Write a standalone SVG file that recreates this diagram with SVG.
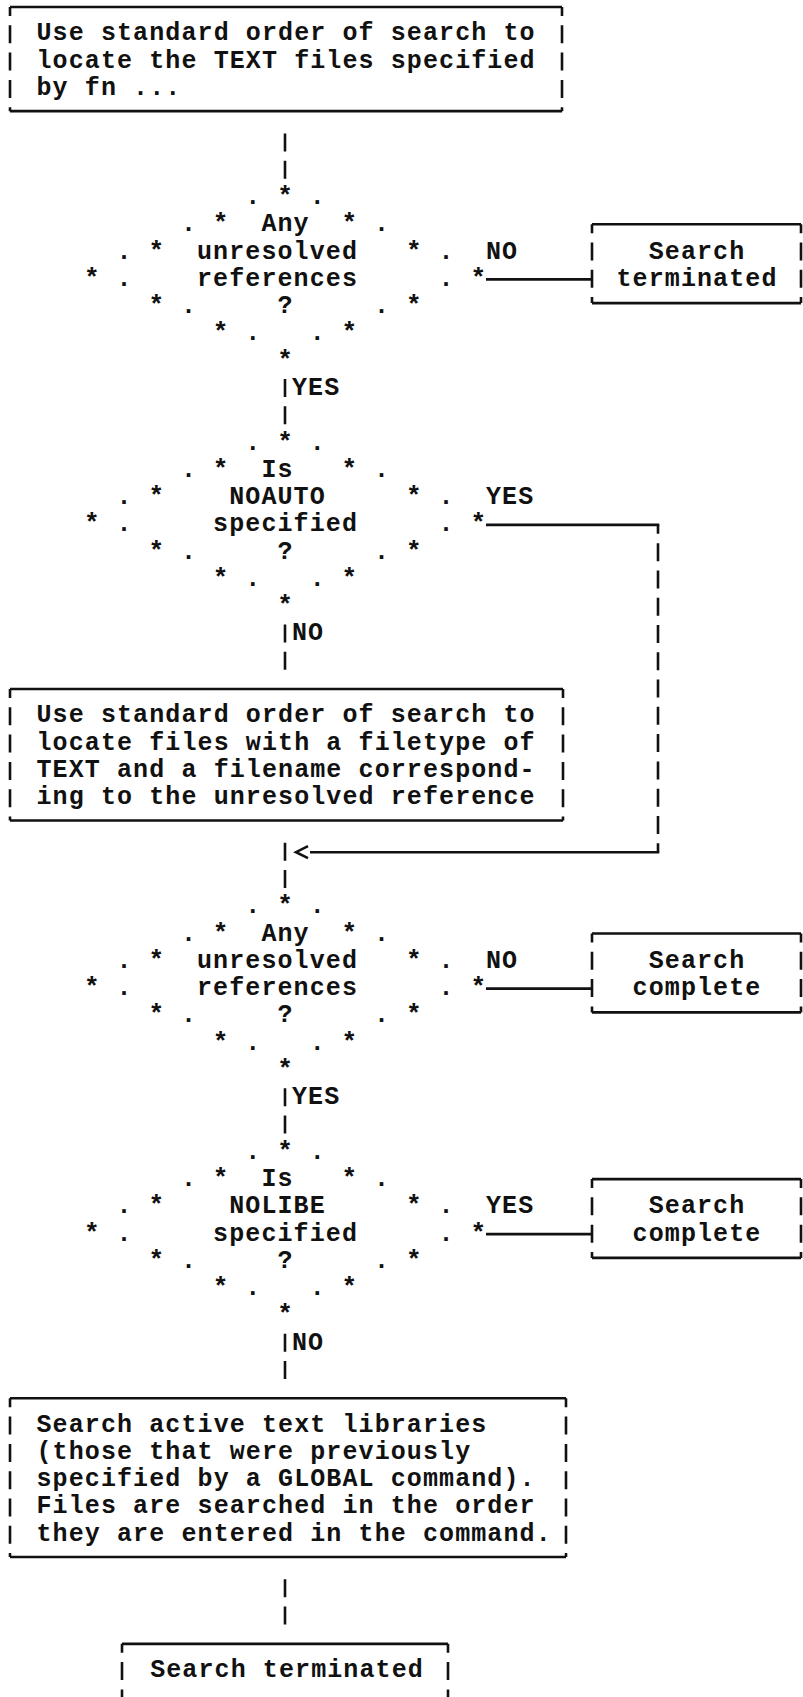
<svg xmlns="http://www.w3.org/2000/svg" width="803" height="1697" viewBox="0 0 803 1697">
<style>
.t{font-family:"Liberation Mono","DejaVu Sans Mono",monospace;font-size:25px;font-weight:bold;letter-spacing:1.1px;fill:#111}
.c{text-anchor:middle}
.g{font-family:"Liberation Mono","DejaVu Sans Mono",monospace;font-size:25px;font-weight:bold;fill:#111;text-anchor:middle}
.s{font-family:"Liberation Mono","DejaVu Sans Mono",monospace;font-size:26px;font-weight:bold;fill:#111;text-anchor:middle}
.ln{stroke:#111;stroke-width:2.6;fill:none}
.side{stroke:#111;stroke-width:2.6;fill:none;stroke-dasharray:18 9.28;stroke-dashoffset:9}
.bar{stroke:#111;stroke-width:2.6;fill:none;stroke-dasharray:18 9.28}
</style>
<rect width="803" height="1697" fill="#fff"/>

<g id="box1">
<path class="ln" d="M10,7.04 H562 M10,111.16 H562"/>
<path class="side" d="M10,7.04 V111.16 M562,7.04 V111.16"/>
<text class="t" x="36.5" y="40.3">Use standard order of search to</text>
<text class="t" x="36.5" y="67.6">locate the TEXT files specified</text>
<text class="t" x="36.5" y="94.9">by fn ...</text>
</g>

<g id="decision1" transform="translate(0,196)">
<text class="g" x="252.8" y="8">.</text><text class="g" x="317.2" y="8">.</text>
<text class="g" x="188.4" y="35.28">.</text><text class="g" x="381.6" y="35.28">.</text>
<text class="g" x="124" y="62.56">.</text><text class="g" x="446" y="62.56">.</text>
<text class="g" x="124" y="89.84">.</text><text class="g" x="446" y="89.84">.</text>
<text class="g" x="188.4" y="117.12">.</text><text class="g" x="381.6" y="117.12">.</text>
<text class="g" x="252.8" y="144.4">.</text><text class="g" x="317.2" y="144.4">.</text>
<text class="s" x="285" y="8">*</text>
<text class="s" x="220.6" y="35.28">*</text><text class="s" x="349.4" y="35.28">*</text>
<text class="s" x="156.2" y="62.56">*</text><text class="s" x="413.8" y="62.56">*</text>
<text class="s" x="91.8" y="89.84">*</text><text class="s" x="478.2" y="89.84">*</text>
<text class="s" x="156.2" y="117.12">*</text><text class="s" x="413.8" y="117.12">*</text>
<text class="s" x="220.6" y="144.4">*</text><text class="s" x="349.4" y="144.4">*</text>
<text class="s" x="285" y="171.68">*</text>
<text class="t" x="261.4" y="35.28">Any</text>
<text class="t" x="197" y="62.56">unresolved</text>
<text class="t" x="197" y="89.84">references</text>
<text class="g" x="285" y="117.12">?</text>
</g>

<g id="end1">
<path class="ln" d="M592,224.28 H801 M592,303.12 H801"/>
<path class="side" d="M592,224.28 V303.12 M801,224.28 V303.12"/>
<text class="t c" x="697" y="258.56">Search</text>
<text class="t c" x="697" y="285.84">terminated</text>
</g>

<g id="decision2" transform="translate(0,441.52)">
<text class="g" x="252.8" y="8">.</text><text class="g" x="317.2" y="8">.</text>
<text class="g" x="188.4" y="35.28">.</text><text class="g" x="381.6" y="35.28">.</text>
<text class="g" x="124" y="62.56">.</text><text class="g" x="446" y="62.56">.</text>
<text class="g" x="124" y="89.84">.</text><text class="g" x="446" y="89.84">.</text>
<text class="g" x="188.4" y="117.12">.</text><text class="g" x="381.6" y="117.12">.</text>
<text class="g" x="252.8" y="144.4">.</text><text class="g" x="317.2" y="144.4">.</text>
<text class="s" x="285" y="8">*</text>
<text class="s" x="220.6" y="35.28">*</text><text class="s" x="349.4" y="35.28">*</text>
<text class="s" x="156.2" y="62.56">*</text><text class="s" x="413.8" y="62.56">*</text>
<text class="s" x="91.8" y="89.84">*</text><text class="s" x="478.2" y="89.84">*</text>
<text class="s" x="156.2" y="117.12">*</text><text class="s" x="413.8" y="117.12">*</text>
<text class="s" x="220.6" y="144.4">*</text><text class="s" x="349.4" y="144.4">*</text>
<text class="s" x="285" y="171.68">*</text>
<text class="t" x="261.4" y="35.28">Is</text>
<text class="t" x="229.2" y="62.56">NOAUTO</text>
<text class="t" x="213.1" y="89.84">specified</text>
<text class="g" x="285" y="117.12">?</text>
</g>

<g id="box2">
<path class="ln" d="M10,689.04 H563 M10,820.44 H563"/>
<path class="side" d="M10,689.04 V820.44 M563,689.04 V820.44"/>
<text class="t" x="36.5" y="722.3">Use standard order of search to</text>
<text class="t" x="36.5" y="749.6">locate files with a filetype of</text>
<text class="t" x="36.5" y="776.9">TEXT and a filename correspond-</text>
<text class="t" x="36.5" y="804.2">ing to the unresolved reference</text>
</g>

<g id="decision3" transform="translate(0,905.28)">
<text class="g" x="252.8" y="8">.</text><text class="g" x="317.2" y="8">.</text>
<text class="g" x="188.4" y="35.28">.</text><text class="g" x="381.6" y="35.28">.</text>
<text class="g" x="124" y="62.56">.</text><text class="g" x="446" y="62.56">.</text>
<text class="g" x="124" y="89.84">.</text><text class="g" x="446" y="89.84">.</text>
<text class="g" x="188.4" y="117.12">.</text><text class="g" x="381.6" y="117.12">.</text>
<text class="g" x="252.8" y="144.4">.</text><text class="g" x="317.2" y="144.4">.</text>
<text class="s" x="285" y="8">*</text>
<text class="s" x="220.6" y="35.28">*</text><text class="s" x="349.4" y="35.28">*</text>
<text class="s" x="156.2" y="62.56">*</text><text class="s" x="413.8" y="62.56">*</text>
<text class="s" x="91.8" y="89.84">*</text><text class="s" x="478.2" y="89.84">*</text>
<text class="s" x="156.2" y="117.12">*</text><text class="s" x="413.8" y="117.12">*</text>
<text class="s" x="220.6" y="144.4">*</text><text class="s" x="349.4" y="144.4">*</text>
<text class="s" x="285" y="171.68">*</text>
<text class="t" x="261.4" y="35.28">Any</text>
<text class="t" x="197" y="62.56">unresolved</text>
<text class="t" x="197" y="89.84">references</text>
<text class="g" x="285" y="117.12">?</text>
</g>

<g id="end3">
<path class="ln" d="M592,933.56 H801 M592,1012.4 H801"/>
<path class="side" d="M592,933.56 V1012.4 M801,933.56 V1012.4"/>
<text class="t c" x="697" y="967.84">Search</text>
<text class="t c" x="697" y="995.12">complete</text>
</g>

<g id="decision4" transform="translate(0,1150.8)">
<text class="g" x="252.8" y="8">.</text><text class="g" x="317.2" y="8">.</text>
<text class="g" x="188.4" y="35.28">.</text><text class="g" x="381.6" y="35.28">.</text>
<text class="g" x="124" y="62.56">.</text><text class="g" x="446" y="62.56">.</text>
<text class="g" x="124" y="89.84">.</text><text class="g" x="446" y="89.84">.</text>
<text class="g" x="188.4" y="117.12">.</text><text class="g" x="381.6" y="117.12">.</text>
<text class="g" x="252.8" y="144.4">.</text><text class="g" x="317.2" y="144.4">.</text>
<text class="s" x="285" y="8">*</text>
<text class="s" x="220.6" y="35.28">*</text><text class="s" x="349.4" y="35.28">*</text>
<text class="s" x="156.2" y="62.56">*</text><text class="s" x="413.8" y="62.56">*</text>
<text class="s" x="91.8" y="89.84">*</text><text class="s" x="478.2" y="89.84">*</text>
<text class="s" x="156.2" y="117.12">*</text><text class="s" x="413.8" y="117.12">*</text>
<text class="s" x="220.6" y="144.4">*</text><text class="s" x="349.4" y="144.4">*</text>
<text class="s" x="285" y="171.68">*</text>
<text class="t" x="261.4" y="35.28">Is</text>
<text class="t" x="229.2" y="62.56">NOLIBE</text>
<text class="t" x="213.1" y="89.84">specified</text>
<text class="g" x="285" y="117.12">?</text>
</g>

<g id="end4">
<path class="ln" d="M592,1179.08 H801 M592,1257.92 H801"/>
<path class="side" d="M592,1179.08 V1257.92 M801,1179.08 V1257.92"/>
<text class="t c" x="697" y="1213.36">Search</text>
<text class="t c" x="697" y="1240.64">complete</text>
</g>

<g id="box3">
<path class="ln" d="M10,1398.32 H566 M10,1557 H566"/>
<path class="side" d="M10,1398.32 V1557 M566,1398.32 V1557"/>
<text class="t" x="36.5" y="1431.6">Search active text libraries</text>
<text class="t" x="36.5" y="1458.9">(those that were previously</text>
<text class="t" x="36.5" y="1486.2">specified by a GLOBAL command).</text>
<text class="t" x="36.5" y="1513.4">Files are searched in the order</text>
<text class="t" x="36.5" y="1540.7">they are entered in the command.</text>
</g>

<g id="box4">
<path class="ln" d="M122,1643.84 H448"/>
<path class="side" d="M122,1643.84 V1697 M448,1643.84 V1697"/>
<text class="t c" x="287" y="1677.12">Search terminated</text>
</g>

<g id="connectors">
<path class="bar" d="M285,133.44 V178.72"/>
<path class="bar" d="M285,378.96 V424.24"/>
<path class="bar" d="M285,624.48 V669.76"/>
<path class="bar" d="M285,842.72 V888"/>
<path class="bar" d="M285,1088.24 V1133.52"/>
<path class="bar" d="M285,1333.76 V1379.04"/>
<path class="bar" d="M285,1579.28 V1624.56"/>
<path class="ln" d="M486,279.34 H592"/>
<path class="ln" d="M486,988.62 H592"/>
<path class="ln" d="M486,1234.14 H592"/>
<path class="ln" d="M486,524.86 H659.3"/>
<path class="side" d="M658,524.86 V852.22"/>
<path class="ln" d="M659.3,852.22 H310"/>
<path class="ln" d="M308,846.2 L296,852.2 L308,858.2"/>
<text class="t" x="292" y="394.96">YES</text>
<text class="t" x="292" y="640.48">NO</text>
<text class="t" x="292" y="1104.24">YES</text>
<text class="t" x="292" y="1349.76">NO</text>
<text class="t" x="486" y="258.56">NO</text>
<text class="t" x="486" y="504.08">YES</text>
<text class="t" x="486" y="967.84">NO</text>
<text class="t" x="486" y="1213.36">YES</text>
</g>
</svg>
